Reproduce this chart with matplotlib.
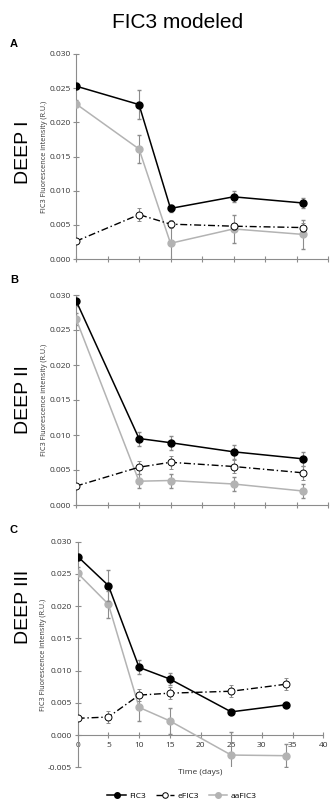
import matplotlib
matplotlib.use("Agg")
import matplotlib.pyplot as plt
from matplotlib.lines import Line2D

# --- data ---
panels = ["A", "B", "C"]
deep_labels = ["DEEP I", "DEEP II", "DEEP III"]

days_A = [0, 10, 15, 25, 36]
fic3_A = [0.0253, 0.0226, 0.0074, 0.0091, 0.0082]
fic3_A_err = [0.0004, 0.0021, 0.0005, 0.0008, 0.0007]
efic3_A = [0.0026, 0.0065, 0.0051, 0.0048, 0.0046]
efic3_A_err = [0.0002, 0.0009, 0.0006, 0.0005, 0.0007]
aafic3_A = [0.0227, 0.0161, 0.0023, 0.0044, 0.0036]
aafic3_A_err = [0.0005, 0.0020, 0.0030, 0.0021, 0.0021]

days_B = [0, 10, 15, 25, 36]
fic3_B = [0.0292, 0.0095, 0.0089, 0.0076, 0.0066]
fic3_B_err = [0.0008, 0.0010, 0.0010, 0.0010, 0.0010]
efic3_B = [0.0027, 0.0054, 0.0061, 0.0055, 0.0046]
efic3_B_err = [0.0003, 0.0009, 0.0009, 0.0009, 0.0010]
aafic3_B = [0.0266, 0.0034, 0.0035, 0.0030, 0.0020]
aafic3_B_err = [0.0009, 0.0010, 0.0010, 0.0010, 0.0010]

days_C = [0, 5, 10, 15, 25, 34]
fic3_C = [0.0277, 0.0232, 0.0105, 0.0087, 0.0036, 0.0047]
fic3_C_err = [0.0004, 0.0024, 0.0011, 0.0009, 0.0003, 0.0003]
efic3_C = [0.0026, 0.0028, 0.0062, 0.0065, 0.0068, 0.0079]
efic3_C_err = [0.0003, 0.0009, 0.0009, 0.0009, 0.0009, 0.0009]
aafic3_C = [0.0251, 0.0203, 0.0043, 0.0022, -0.0031, -0.0032]
aafic3_C_err = [0.0010, 0.0021, 0.0021, 0.0020, 0.0036, 0.0018]

series = [
    (days_A, fic3_A, fic3_A_err, efic3_A, efic3_A_err, aafic3_A, aafic3_A_err),
    (days_B, fic3_B, fic3_B_err, efic3_B, efic3_B_err, aafic3_B, aafic3_B_err),
    (days_C, fic3_C, fic3_C_err, efic3_C, efic3_C_err, aafic3_C, aafic3_C_err),
]

W, H = 334, 801
fig = plt.figure(figsize=(W / 100, H / 100), dpi=100)

def px_axes(left, right, top, bottom):
    return fig.add_axes([left / W, 1 - bottom / H, (right - left) / W, (bottom - top) / H])

# axes boxes in pixels: left, right, top, bottom
boxes = [(76, 328, 54, 259), (76, 328, 295, 505), (77.7, 323.3, 541.7, 767.3)]
ylims = [(0, 0.030), (0, 0.030), (-0.005, 0.030)]
deep_y = [152, 400, 607]
letter_y = [44, 280, 530]

axcol = "#8c8c8c"
gray = "#b3b3b3"
txtcol = "#333333"
tickfont = "Open Sans"

fig.text(178 / W, 1 - 22 / H, "FIC3 modeled", ha="center", va="center",
         fontsize=15, family="Liberation Sans")

for i, ax_box in enumerate(boxes):
    ax = px_axes(*ax_box)
    d, f, fe, e, ee, a, ae = series[i]

    ax.errorbar(d, a, yerr=ae, color=gray, lw=1.1, marker="o", ms=5,
                mfc=gray, mec=gray, ecolor=axcol, elinewidth=0.8, capsize=1.5, zorder=3)
    ax.errorbar(d, e, yerr=ee, color="black", lw=1.0, ls=(0, (5, 2, 1, 2)), marker="o",
                ms=5, mfc="white", mec="black", mew=0.7, ecolor=axcol, elinewidth=0.8,
                capsize=1.5, zorder=4)
    ax.errorbar(d, f, yerr=fe, color="black", lw=1.1, marker="o", ms=5,
                mfc="black", mec="black", ecolor=axcol, elinewidth=0.8, capsize=1.5, zorder=5)

    ax.set_xlim(0, 40)
    ax.set_ylim(*ylims[i])
    ax.set_xticks(range(0, 41, 5))
    ax.set_yticks([v / 1000 for v in range(int(ylims[i][0] * 1000), 31, 5)])
    ax.set_yticklabels([f"{v:.3f}" for v in ax.get_yticks()])
    for s in ["top", "right"]:
        ax.spines[s].set_visible(False)
    for s in ["left", "bottom"]:
        ax.spines[s].set_color(axcol)
        ax.spines[s].set_linewidth(0.8)
    ax.spines["bottom"].set_position(("data", 0))
    ax.tick_params(direction="inout", length=4, width=0.8, color=axcol,
                   labelsize=6, labelcolor=txtcol, pad=2)
    for lab in ax.get_yticklabels() + ax.get_xticklabels():
        lab.set_family(tickfont)
    if i < 2:
        ax.set_xticklabels([])
    else:
        ax.set_xticklabels([str(v) for v in range(0, 41, 5)])
        ax.tick_params(axis="x", pad=3)
        fig.text(200 / W, 1 - 773 / H, "Time (days)", ha="center", va="center",
                 fontsize=6, family=tickfont, color=txtcol)
    ax.patch.set_alpha(0)

    ax.set_ylabel("FIC3 Fluorescence intensity (R.U.)", fontsize=5.2, family=tickfont,
                  color=txtcol, labelpad=1)
    fig.text(23 / W, 1 - deep_y[i] / H, deep_labels[i], rotation=90, ha="center",
             va="center", fontsize=14, family="Liberation Sans")
    fig.text(10 / W, 1 - letter_y[i] / H, panels[i], ha="left", va="center",
             fontsize=8, fontweight="bold", family="Liberation Sans")

handles = [
    Line2D([], [], color="black", lw=1.1, marker="o", ms=4, mfc="black"),
    Line2D([], [], color="black", lw=1.0, ls=(0, (5, 2, 1, 2)), marker="o", ms=4,
           mfc="white", mew=0.7),
    Line2D([], [], color=gray, lw=1.1, marker="o", ms=4, mfc=gray, mec=gray),
]
fig.legend(handles, ["FIC3", "eFIC3", "aaFIC3"], loc="center",
           bbox_to_anchor=(182 / W, 1 - 796 / H), ncol=3, frameon=False,
           prop={"family": tickfont, "size": 6}, handlelength=2.2, columnspacing=1.2,
           handletextpad=0.4, borderpad=0, borderaxespad=0)

fig.savefig("out.png", dpi=100)
